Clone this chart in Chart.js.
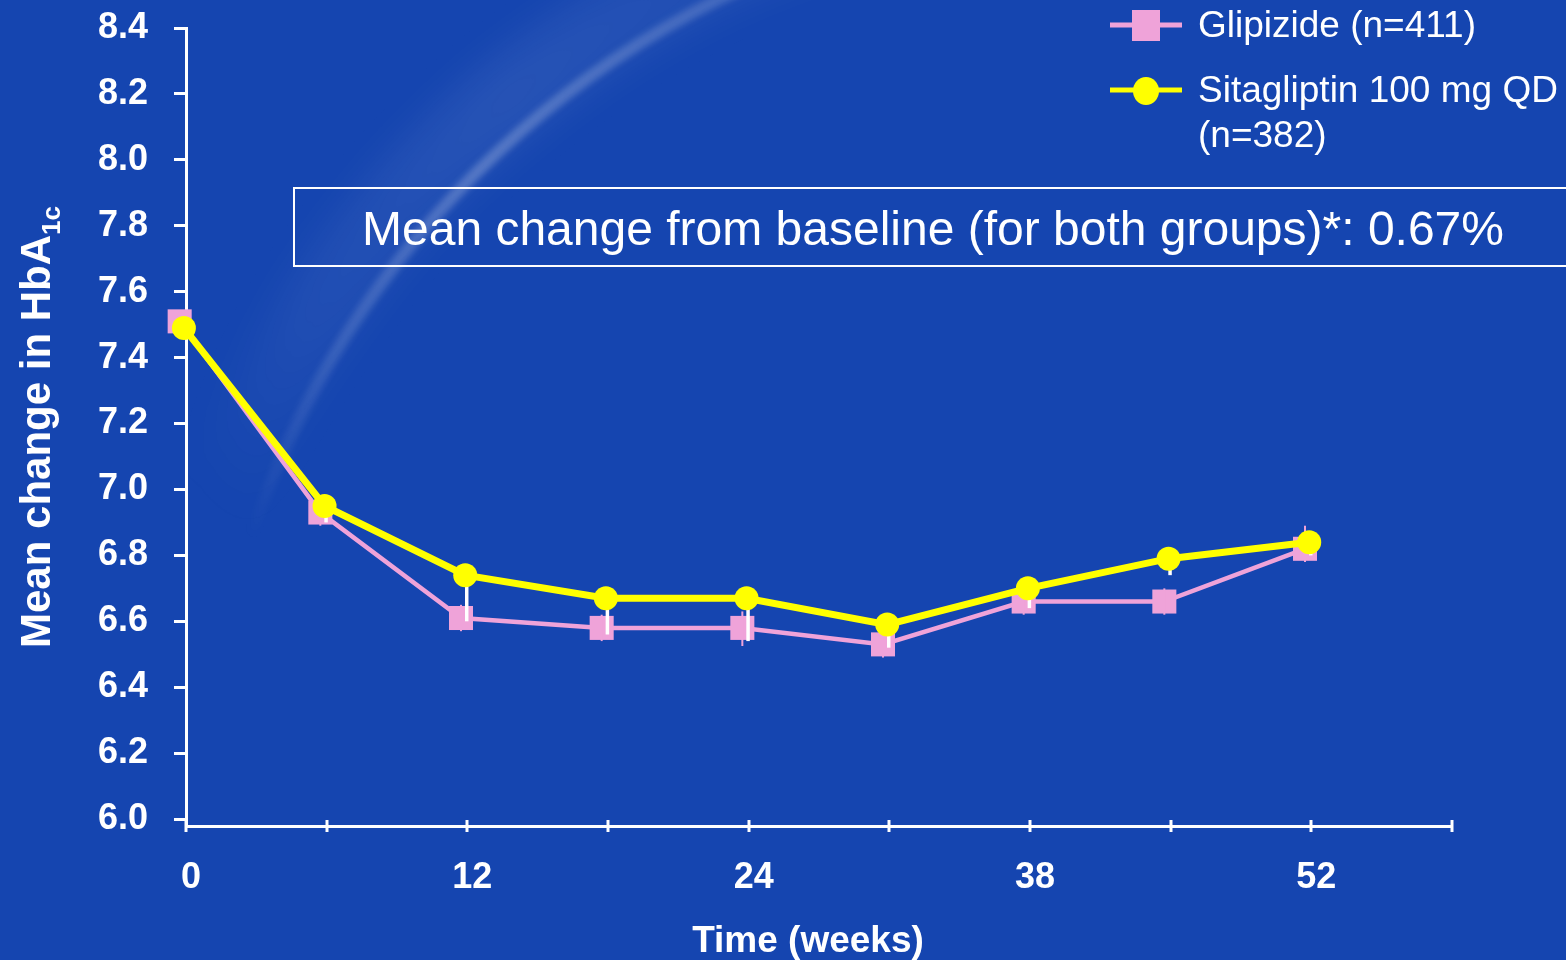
<!DOCTYPE html>
<html>
<head>
<meta charset="utf-8">
<title>HbA1c over time</title>
<script src="https://cdn.jsdelivr.net/npm/chart.js@4/dist/chart.umd.min.js"></script>
<style>
  html, body { margin: 0; padding: 0; background: #1545b0; overflow: hidden; }
  #wrap { width: 1566px; height: 960px; }
</style>
</head>
<body>
<div id="wrap"><canvas id="c" width="1566" height="960"></canvas></div>
<script>
const FONT = '"Liberation Sans", Arial, Helvetica, sans-serif';

// Visit slots along the time axis and the week labels printed under them
const visits = [0, 1, 2, 3, 4, 5, 6, 7, 8];
const weekLabels = ['0', '', '12', '', '24', '', '38', '', '52', ''];
const yTicks = [6.0, 6.2, 6.4, 6.6, 6.8, 7.0, 7.2, 7.4, 7.6, 7.8, 8.0, 8.2, 8.4];

// Series names as shown in the legend (second one wraps to two lines)
const seriesNames = [['Glipizide (n=411)'], ['Sitagliptin 100 mg QD', '(n=382)']];

// Mean HbA1c (%) at each visit
const glipizide   = [7.51, 6.93, 6.61, 6.58, 6.58, 6.53, 6.66, 6.66, 6.82];
const sitagliptin = [7.49, 6.95, 6.74, 6.67, 6.67, 6.59, 6.70, 6.79, 6.84];

// Error bar ends
const glipizideHigh  = [null, 6.97, 6.65, 6.62, 6.63, 6.57, 6.70, 6.70, 6.89];
const glipizideLow   = [null, 6.89, 6.57, 6.54, 6.525, 6.49, 6.62, 6.62, 6.78];
const sitagliptinLow = [null, 6.90, 6.60, 6.56, 6.54, 6.52, 6.64, 6.74, 6.80];

const yTitle = 'Mean change in HbA';
const yTitleSub = '1c';
const xTitle = 'Time (weeks)';
const boxNote = 'Mean change from baseline (for both groups)*: 0.67%';

const BG = '#1545b0';
const PINK = '#efa3d9';
const YELLOW = '#ffff00';
const WHITE = '#ffffff';

// small sideways nudge so the two series' markers do not sit exactly on top of each other
const GLIP_SHIFT = -0.045;
const SITA_SHIFT = -0.015;

// Backdrop: flat blue with a soft light arc sweeping down from the top
const backdrop = {
  id: 'backdrop',
  beforeDraw(chart) {
    const ctx = chart.ctx;
    const w = chart.width, h = chart.height;
    ctx.save();
    ctx.fillStyle = BG;
    ctx.fillRect(0, 0, w, h);

    const cx = 1130, cy = 830, r = 927;
    const a0 = -162 * Math.PI / 180, a1 = -104 * Math.PI / 180;

    const glow = ctx.createLinearGradient(250, 540, 730, 0);
    glow.addColorStop(0, 'rgba(255,255,255,0)');
    glow.addColorStop(0.3, 'rgba(255,255,255,0.05)');
    glow.addColorStop(0.7, 'rgba(255,255,255,0.08)');
    glow.addColorStop(1, 'rgba(255,255,255,0.06)');
    ctx.filter = 'blur(20px)';
    ctx.strokeStyle = glow;
    ctx.lineWidth = 80;
    ctx.beginPath();
    ctx.arc(cx - 20, cy, r + 20, a0, a1, false);
    ctx.stroke();

    const core = ctx.createLinearGradient(250, 540, 730, 0);
    core.addColorStop(0, 'rgba(255,255,255,0)');
    core.addColorStop(0.25, 'rgba(255,255,255,0.12)');
    core.addColorStop(0.6, 'rgba(255,255,255,0.24)');
    core.addColorStop(1, 'rgba(255,255,255,0.16)');
    ctx.filter = 'blur(3px)';
    ctx.strokeStyle = core;
    ctx.lineWidth = 12;
    ctx.beginPath();
    ctx.arc(cx, cy, r, a0, a1, false);
    ctx.stroke();
    ctx.restore();
  }
};

// Tick marks crossing the time axis
const crossTicks = {
  id: 'crossTicks',
  beforeDatasetsDraw(chart) {
    const ctx = chart.ctx, xs = chart.scales.x;
    const yAxis = chart.chartArea.bottom;
    ctx.save();
    ctx.strokeStyle = WHITE;
    ctx.lineWidth = 3;
    xs.ticks.forEach(t => {
      const px = Math.round(xs.getPixelForValue(t.value));
      ctx.beginPath();
      ctx.moveTo(px, yAxis - 6);
      ctx.lineTo(px, yAxis + 6);
      ctx.stroke();
    });
    ctx.restore();
  }
};

// Error bars: drawn after the glipizide line and before the sitagliptin line
const errorBars = {
  id: 'errorBars',
  beforeDatasetDraw(chart, args) {
    if (args.index !== 1) return;
    const ctx = chart.ctx, xs = chart.scales.x, ys = chart.scales.y;
    ctx.save();
    ctx.lineCap = 'butt';
    ctx.strokeStyle = PINK;
    ctx.lineWidth = 2;
    visits.forEach((v, i) => {
      if (glipizideHigh[i] == null) return;
      const px = xs.getPixelForValue(v + GLIP_SHIFT);
      ctx.beginPath();
      ctx.moveTo(px, ys.getPixelForValue(glipizideHigh[i]));
      ctx.lineTo(px, ys.getPixelForValue(glipizideLow[i]));
      ctx.stroke();
    });
    ctx.strokeStyle = WHITE;
    ctx.lineWidth = 3.5;
    visits.forEach((v, i) => {
      if (sitagliptinLow[i] == null) return;
      const px = xs.getPixelForValue(v + SITA_SHIFT) + 1.5;
      ctx.beginPath();
      ctx.moveTo(px, ys.getPixelForValue(sitagliptin[i]));
      ctx.lineTo(px, ys.getPixelForValue(sitagliptinLow[i]));
      ctx.stroke();
    });
    ctx.restore();
  }
};

// Axis titles, note box and legend
const annotations = {
  id: 'annotations',
  afterDraw(chart) {
    const ctx = chart.ctx;
    const area = chart.chartArea;
    ctx.save();
    ctx.fillStyle = WHITE;

    // y-axis title with subscript, rotated
    const mainFont = 'bold 42px ' + FONT;
    const subFont = 'bold 26px ' + FONT;
    ctx.font = mainFont;
    const w1 = ctx.measureText(yTitle).width;
    ctx.font = subFont;
    const w2 = ctx.measureText(yTitleSub).width;
    const midY = (area.top + area.bottom) / 2;
    ctx.save();
    ctx.translate(50, midY + (w1 + w2) / 2);
    ctx.rotate(-Math.PI / 2);
    ctx.textAlign = 'left';
    ctx.textBaseline = 'alphabetic';
    ctx.font = mainFont;
    ctx.fillText(yTitle, 0, 0);
    ctx.font = subFont;
    ctx.fillText(yTitleSub, w1, 10);
    ctx.restore();

    // x-axis title
    ctx.font = 'bold 37px ' + FONT;
    ctx.textAlign = 'center';
    ctx.textBaseline = 'alphabetic';
    ctx.fillText(xTitle, 808, 952);

    // note box
    ctx.strokeStyle = WHITE;
    ctx.lineWidth = 2;
    ctx.strokeRect(294, 188, 1300, 78);
    ctx.font = '48px ' + FONT;
    ctx.textAlign = 'left';
    ctx.fillText(boxNote, 362, 245);

    // legend
    const ds = chart.data.datasets;
    const rows = [
      { d: ds[0], y: 25, base: [37] },
      { d: ds[1], y: 90, base: [102, 147] }
    ];
    rows.forEach((row, k) => {
      const d = row.d;
      ctx.strokeStyle = d.borderColor;
      ctx.lineWidth = 5;
      ctx.beginPath();
      ctx.moveTo(1110, row.y);
      ctx.lineTo(1182, row.y);
      ctx.stroke();
      ctx.fillStyle = d.backgroundColor;
      if (d.pointStyle === 'rect') {
        ctx.fillRect(1132, row.y - 15, 28, 31);
      } else {
        ctx.beginPath();
        ctx.ellipse(1146, row.y + 1, 13, 14, 0, 0, Math.PI * 2);
        ctx.fill();
      }
      ctx.fillStyle = WHITE;
      ctx.font = '37px ' + FONT;
      ctx.textAlign = 'left';
      seriesNames[k].forEach((line, j) => ctx.fillText(line, 1198, row.base[j]));
    });
    ctx.restore();
  }
};

new Chart(document.getElementById('c'), {
  type: 'line',
  data: {
    datasets: [
      {
        label: seriesNames[0].join(' '),
        data: visits.map((v, i) => ({ x: v + GLIP_SHIFT, y: glipizide[i] })),
        borderColor: PINK,
        backgroundColor: PINK,
        borderWidth: 4.5,
        pointStyle: 'rect',
        pointRadius: 17,
        pointBorderWidth: 0,
        tension: 0,
        clip: false,
        order: 2
      },
      {
        label: seriesNames[1].join(' '),
        data: visits.map((v, i) => ({ x: v + SITA_SHIFT, y: sitagliptin[i] })),
        borderColor: YELLOW,
        backgroundColor: YELLOW,
        borderWidth: 7,
        pointStyle: 'circle',
        pointRadius: 12,
        pointBorderWidth: 0,
        tension: 0,
        clip: false,
        order: 1
      }
    ]
  },
  options: {
    responsive: false,
    animation: false,
    devicePixelRatio: 1,
    layout: { autoPadding: false, padding: { left: 0, right: 114, top: 28, bottom: 0 } },
    plugins: { legend: { display: false }, tooltip: { enabled: false } },
    scales: {
      x: {
        type: 'linear',
        min: 0,
        max: 9,
        afterFit: s => { s.height = 134; s.paddingLeft = 0; s.paddingRight = 0; },
        ticks: {
          stepSize: 1,
          autoSkip: false,
          maxRotation: 0,
          color: WHITE,
          font: { family: FONT, size: 36, weight: 'bold' },
          padding: 30,
          labelOffset: 5,
          callback: v => weekLabels[v] ?? ''
        },
        grid: { display: false, drawTicks: false },
        border: { display: true, color: WHITE, width: 3 }
      },
      y: {
        type: 'linear',
        min: 5.979,
        max: 8.4,
        afterFit: s => { s.width = 186; s.paddingTop = 0; s.paddingBottom = 0; },
        afterBuildTicks: s => { s.ticks = yTicks.map(v => ({ value: v })); },
        ticks: {
          color: WHITE,
          font: { family: FONT, size: 36, weight: 'bold' },
          padding: 26,
          callback: v => Number(v).toFixed(1)
        },
        grid: { drawOnChartArea: false, drawTicks: true, tickLength: 12, color: WHITE, lineWidth: 3 },
        border: { display: true, color: WHITE, width: 3 }
      }
    }
  },
  plugins: [backdrop, crossTicks, errorBars, annotations]
});
</script>
</body>
</html>
